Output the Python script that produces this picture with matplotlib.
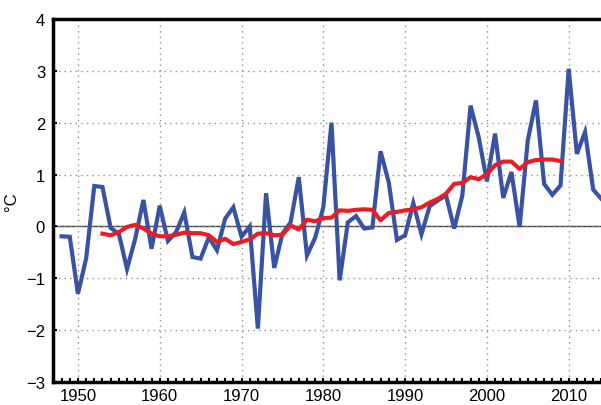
import matplotlib
matplotlib.use("Agg")
import matplotlib.pyplot as plt
from matplotlib.ticker import MultipleLocator

plt.rcParams['font.family'] = ['Liberation Sans', 'DejaVu Sans']

# Annual temperature anomaly (°C)
years = list(range(1948, 2015))
anomaly = [
    -0.19, -0.20, -1.30, -0.62, 0.78, 0.76, -0.03, -0.14, -0.82, -0.24,
    0.51, -0.43, 0.40, -0.28, -0.11, 0.27, -0.59, -0.62, -0.21, -0.46,
    0.15, 0.37, -0.20, 0.00, -1.97, 0.64, -0.80, -0.14, 0.08, 0.95,
    -0.56, -0.22, 0.37, 2.00, -1.04, 0.08, 0.20, -0.04, -0.02, 1.45,
    0.85, -0.26, -0.17, 0.45, -0.15, 0.39, 0.50, 0.60, -0.04, 0.60,
    2.33, 1.72, 0.87, 1.79, 0.55, 1.05, -0.01, 1.66, 2.43, 0.82,
    0.61, 0.79, 3.04, 1.40, 1.82, 0.71, 0.53,
]

# Running mean (°C)
mean_years = list(range(1953, 2010))
running_mean = [
    -0.14, -0.17, -0.11, -0.01, 0.03, -0.04, -0.14, -0.19, -0.19, -0.16,
    -0.12, -0.13, -0.13, -0.17, -0.30, -0.24, -0.34, -0.30, -0.25, -0.14,
    -0.13, -0.17, -0.16, 0.02, -0.06, 0.13, 0.10, 0.16, 0.17, 0.31,
    0.30, 0.32, 0.33, 0.32, 0.12, 0.26, 0.28, 0.31, 0.33, 0.37,
    0.46, 0.53, 0.63, 0.82, 0.84, 0.95, 0.91, 1.01, 1.18, 1.25,
    1.25, 1.11, 1.24, 1.28, 1.29, 1.29, 1.26,
]

y_ticks = [4, 3, 2, 1, 0, -1, -2, -3]
x_ticks = [1950, 1960, 1970, 1980, 1990, 2000, 2010]

fig = plt.figure(figsize=(6.01, 4.06), dpi=100)
ax = fig.add_axes([53.4 / 601, 23 / 406, 548 / 601, 363 / 406])

ax.set_xlim(1947, 2014)
ax.set_ylim(-3, 4)

ax.grid(True, linestyle=(0, (1, 3)), color='#909090', linewidth=1.0)
ax.axhline(0, color='#444444', linewidth=1.0, zorder=1.5)

ax.plot(years, anomaly, color='#3953a4', linewidth=3.0, zorder=3,
        solid_joinstyle='miter')
ax.plot(mean_years, running_mean, color='#ec1c24', linewidth=3.0, zorder=4)

ax.set_xticks(x_ticks)
ax.set_yticks(y_ticks)
ax.set_yticklabels([str(v).replace('-', '\u2212') for v in y_ticks])
ax.xaxis.set_minor_locator(MultipleLocator(1))

ax.tick_params(axis='x', which='both', direction='in', length=3, width=1.5,
               labelsize=12, pad=4, top=False, colors='black')
ax.tick_params(axis='y', which='both', direction='in', length=3, width=1.5,
               labelsize=12, pad=6, right=False)

for side in ('left', 'bottom', 'top'):
    ax.spines[side].set_linewidth(2.5)
    ax.spines[side].set_color('black')
ax.spines['right'].set_visible(False)

ax.set_ylabel('°C', fontsize=12, labelpad=5)

fig.savefig('out.png', dpi=100)
